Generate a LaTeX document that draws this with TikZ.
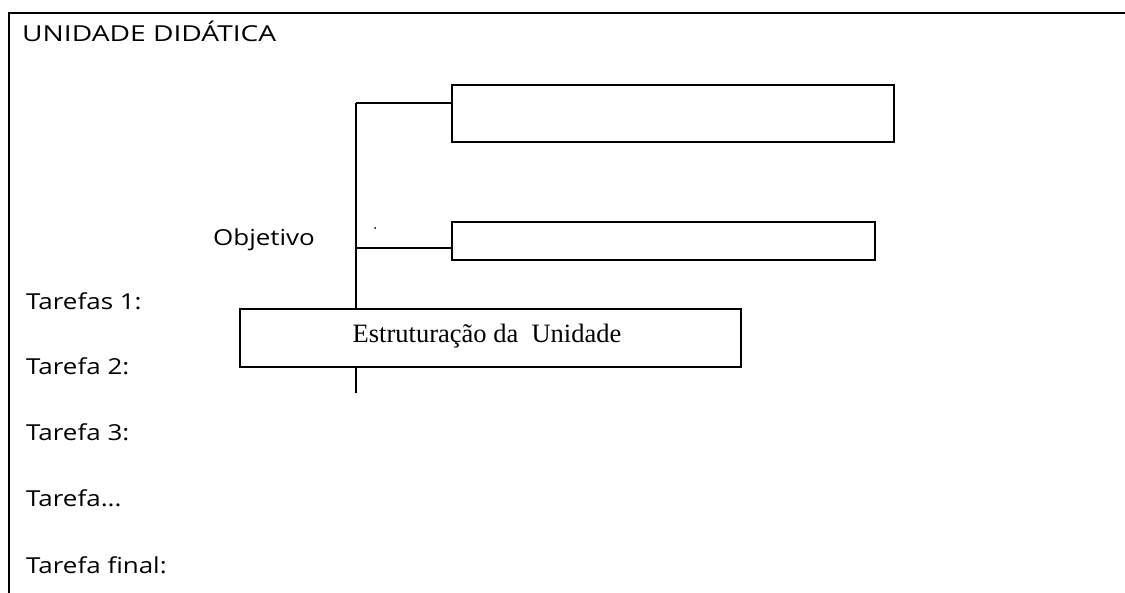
\documentclass[tikz,border=0pt]{standalone}
\usepackage{fontspec}
\setmainfont[FakeStretch=1.18]{Open Sans}
\newfontfamily\titlefont[FakeStretch=1.28]{Open Sans}
\newfontfamily\timesfont{Liberation Serif}
\begin{document}
\begin{tikzpicture}[x=1pt,y=-1pt,
  frameline/.style={line width=2pt},
  boxstyle/.style={draw, line width=1.8pt, fill=white, inner sep=0pt, anchor=north west},
  link/.style={line width=1.5pt},
  lbl/.style={anchor=base west, inner sep=0pt, font=\fontsize{22}{26}\selectfont}]
\useasboundingbox (0,0) rectangle (1125,593);
% frame
\coordinate (fl) at (9,593);
\coordinate (ft) at (9,13);
\coordinate (fr) at (1125,13);
\draw[frameline] (fl) -- (ft) -- (fr);
% title and labels
\node[lbl, font=\titlefont\fontsize{22}{26}\selectfont] (title) at (22,42) {UNIDADE DIDÁTICA};
\node[lbl] (obj) at (213,246) {Objetivo};
\node[lbl] (t1) at (26,310) {Tarefas 1:};
\node[lbl] (t2) at (26,375) {Tarefa 2:};
\node[lbl] (t3) at (26,441) {Tarefa 3:};
\node[lbl] (tx) at (26,507) {Tarefa...};
\node[lbl] (tf) at (26,573) {Tarefa final:};
% trunk
\coordinate (top) at (356,103);
\coordinate (j2) at (356,248);
\coordinate (bot) at (356,393);
\node[boxstyle, minimum width=442pt, minimum height=57pt] (b1) at (451,84) {};
\node[boxstyle, minimum width=423pt, minimum height=38pt] (b2) at (451,221) {};
\draw[link] (top) -- (bot);
\draw[link] (top) -- (top -| b1.west);
\draw[link] (j2) -- (j2 -| b2.west);
\node[boxstyle, minimum width=501pt, minimum height=58pt] (b3) at (239,308) {};
\node[anchor=base, inner sep=0pt, font=\timesfont\fontsize{26.5}{30}\selectfont] (b3t) at (487,343) {Estruturação da\ \ Unidade};
\fill (375,228) circle (1pt);
\end{tikzpicture}
\end{document}
